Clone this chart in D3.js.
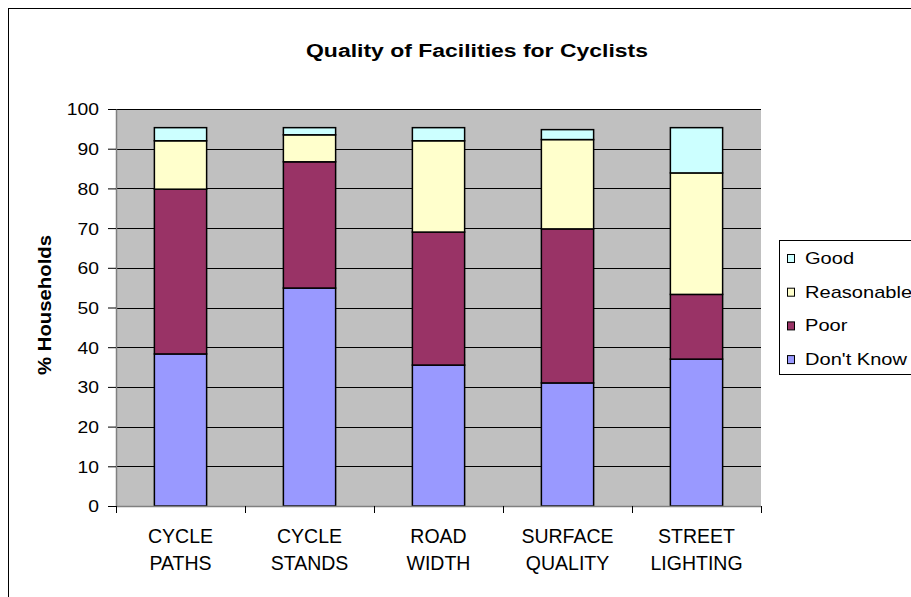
<!DOCTYPE html>
<html><head><meta charset="utf-8">
<script src="https://cdn.jsdelivr.net/npm/d3@7"></script>
<style>body{margin:0;background:#fff}svg{display:block;font-family:"Liberation Sans",Arial,sans-serif}</style>
</head><body><svg id="c" width="911" height="597"></svg>
<script>
const categories = [["CYCLE","PATHS"],["CYCLE","STANDS"],["ROAD","WIDTH"],["SURFACE","QUALITY"],["STREET","LIGHTING"]];
const seriesNames = ["Don't Know","Poor","Reasonable","Good"];
const dontKnow   = [38.3, 54.9, 35.5, 31.0, 37.0];
const poor       = [41.5, 31.8, 33.5, 38.8, 16.3];
const reasonable = [12.2, 6.8, 23.0, 22.5, 30.6];
const good       = [3.3, 1.8, 3.3, 2.5, 11.4];
const yTicks = [0,10,20,30,40,50,60,70,80,90,100];
const colors = {"Don't Know":"#9999FF","Poor":"#993366","Reasonable":"#FFFFCC","Good":"#CCFFFF"};

const svg = d3.select("#c");
const L=116, R=761, T=109, B=506;
const rows = categories.map((c,i)=>({key:i, "Don't Know":dontKnow[i], "Poor":poor[i], "Reasonable":reasonable[i], "Good":good[i]}));
const stack = d3.stack().keys(seriesNames)(rows);
const x = d3.scaleBand().domain(d3.range(categories.length)).range([L,R]).paddingInner(0.595).paddingOuter(0.2975);
const y = d3.scaleLinear().domain([0,100]).range([B,T]);

function stretch(sel, f){
  sel.each(function(){
    const len = this.getComputedTextLength();
    d3.select(this).attr("textLength", len*f).attr("lengthAdjust","spacingAndGlyphs");
  });
}

// outer border
svg.append("rect").attr("x",8.5).attr("y",8.5).attr("width",920).attr("height",600).attr("fill","#fff").attr("stroke","#000").attr("stroke-width",1);

// plot bg
svg.append("rect").attr("x",L).attr("y",T).attr("width",R-L).attr("height",B-T).attr("fill","#C0C0C0");

// gridlines
svg.append("g").selectAll("line").data(yTicks.filter(d=>d>0)).join("line")
  .attr("x1",L).attr("x2",R).attr("y1",d=>Math.round(y(d))+0.5).attr("y2",d=>Math.round(y(d))+0.5)
  .attr("stroke","#000").attr("stroke-width",1);

// bars
svg.append("g").selectAll("g").data(stack).join("g").attr("fill",d=>colors[d.key])
  .selectAll("rect").data(d=>d).join("rect")
  .attr("x",(d,i)=>x(i)).attr("width",x.bandwidth())
  .attr("y",d=>y(d[1])).attr("height",d=>y(d[0])-y(d[1]))
  .attr("stroke","#000").attr("stroke-width",1.5);

// y axis
const ya = svg.append("g").attr("transform",`translate(${L},0)`)
  .call(d3.axisLeft(y).tickValues(yTicks).tickSize(8).tickPadding(9).tickSizeOuter(0));
ya.select(".domain").attr("stroke","#808080").attr("stroke-width",1.5);
ya.selectAll(".tick line").attr("stroke","#000");
ya.selectAll("text").attr("font-size",16.5).attr("fill","#000").attr("font-family","Liberation Sans, Arial, sans-serif").attr("dy","0.36em");
stretch(ya.selectAll("text"),1.17);

// x axis with ticks at boundaries
const xa = svg.append("g");
xa.append("line").attr("x1",L).attr("x2",R).attr("y1",B+0.5).attr("y2",B+0.5).attr("stroke","#808080").attr("stroke-width",1.5);
const step = x.step();
xa.selectAll("line.t").data(d3.range(categories.length+1)).join("line").attr("class","t")
  .attr("x1",i=>Math.round(x(0)-x.paddingOuter()*step+i*step)+0.5)
  .attr("x2",i=>Math.round(x(0)-x.paddingOuter()*step+i*step)+0.5)
  .attr("y1",B).attr("y2",B+7).attr("stroke","#000");
categories.forEach((c,i)=>{
  const cx = x(i)+x.bandwidth()/2;
  xa.append("text").attr("x",cx).attr("y",543).attr("text-anchor","middle").attr("font-size",19.5).attr("fill","#000").text(c[0]);
  xa.append("text").attr("x",cx).attr("y",570).attr("text-anchor","middle").attr("font-size",19.5).attr("fill","#000").text(c[1]);
});

// title
svg.append("text").attr("x",477).attr("y",57).attr("text-anchor","middle").attr("font-size",18).attr("font-weight","bold")
  .attr("textLength",342).attr("lengthAdjust","spacingAndGlyphs").text("Quality of Facilities for Cyclists");
// y label
svg.append("text").attr("transform","translate(51,305) rotate(-90)").attr("text-anchor","middle").attr("font-size",18).attr("font-weight","bold")
  .attr("textLength",140).attr("lengthAdjust","spacingAndGlyphs").text("% Households");

// legend
const lg = svg.append("g");
lg.append("rect").attr("x",779.5).attr("y",240.5).attr("width",200).attr("height",134).attr("fill","#fff").attr("stroke","#000");
const legOrder = ["Good","Reasonable","Poor","Don't Know"];
legOrder.forEach((k,i)=>{
  const base = 264 + i*33.7;
  lg.append("rect").attr("x",787.5).attr("y",base-9.5).attr("width",7).attr("height",8).attr("fill",colors[k]).attr("stroke","#000");
  const t = lg.append("text").attr("x",805).attr("y",base).attr("font-size",17).attr("fill","#000").text(k);
  stretch(t,1.18);
});
</script></body></html>
